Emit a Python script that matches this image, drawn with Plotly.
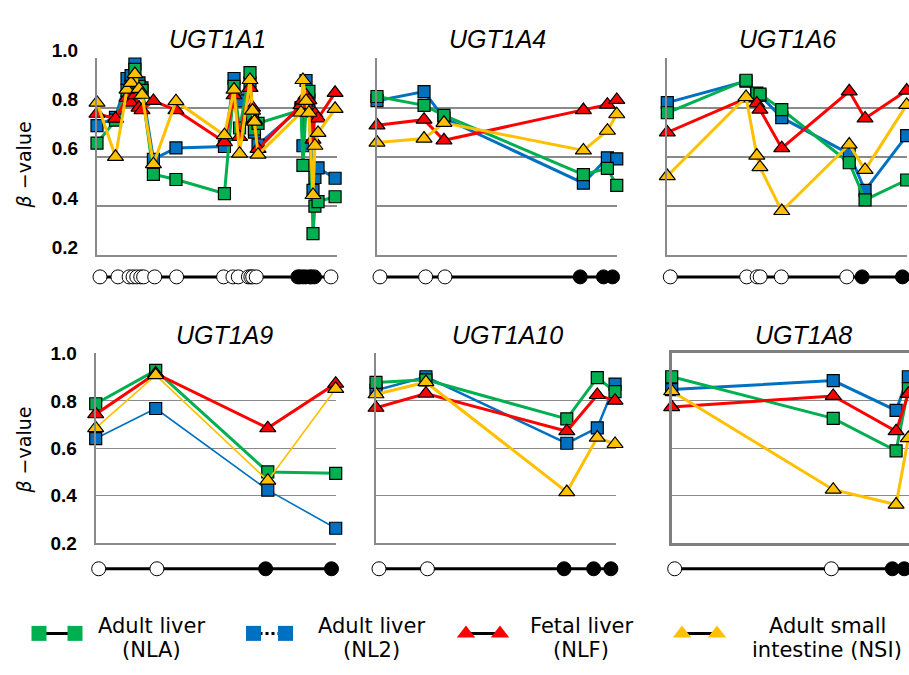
import plotly.graph_objects as go

W, H = 909, 675

# ---------------- data ----------------
PANEL_NAMES = ["UGT1A1", "UGT1A4", "UGT1A6", "UGT1A9", "UGT1A10", "UGT1A8"]
SERIES_NAMES = ["Adult liver (NL2)", "Adult liver (NLA)", "Fetal liver (NLF)", "Adult small intestine (NSI)"]
Y_TICKS = [0.2, 0.4, 0.6, 0.8, 1.0]
Y_TICK_TEXT = ["0.2", "0.4", "0.6", "0.8", "1.0"]

# relative CpG-site positions (0-100) and status (1 = filled circle)
ugt1a1_pos = [0, 7.7, 12.5, 14.2, 15.8, 17.5, 18.75, 23.5, 32.9, 53.1, 57.1, 59.4,
              63.75, 64.8, 65.6, 67.1, 85.0, 85.8, 87.1, 88.3, 90.0, 90.8, 92.1, 99.2]
ugt1a1_fill = [0, 0, 0, 0, 0, 0, 0, 0, 0, 0, 0, 0, 0, 0, 0, 0, 1, 1, 1, 1, 1, 1, 1, 0]
ugt1a1_nla = [0.656, 0.749, 0.870, 0.886, 0.955, 0.886, 0.870, 0.529, 0.508, 0.451, 0.886, 0.717,
              0.942, 0.760, 0.713, 0.736, 0.790, 0.565, 0.800, 0.866, 0.288, 0.400, 0.418, 0.438]
ugt1a1_nl2 = [0.727, 0.760, 0.918, 0.930, 0.977, 0.900, 0.880, 0.590, 0.636, 0.642, 0.918, 0.827,
              0.900, 0.760, 0.700, 0.648, 0.800, 0.645, 0.910, 0.830, 0.464, 0.516, 0.555, 0.513]
ugt1a1_nlf = [0.775, 0.755, 0.840, 0.820, 0.850, 0.800, 0.790, 0.827, 0.790, 0.660, 0.850, 0.681,
              0.880, 0.800, 0.750, 0.632, 0.810, 0.830, 0.850, 0.830, 0.670, 0.775, 0.756, 0.860]
ugt1a1_nsi = [0.820, 0.600, 0.873, 0.900, 0.936, 0.876, 0.852, 0.570, 0.826, 0.688, 0.873, 0.613,
              0.912, 0.788, 0.743, 0.609, 0.780, 0.912, 0.827, 0.779, 0.445, 0.645, 0.697, 0.795]

ugt1a4_pos = [0, 19.6, 27.9, 86.0, 96.0, 99.9]
ugt1a4_fill = [0, 0, 0, 1, 1, 1]
ugt1a4_nla = [0.845, 0.809, 0.768, 0.528, 0.553, 0.484]
ugt1a4_nl2 = [0.828, 0.865, 0.757, 0.493, 0.596, 0.592]
ugt1a4_nlf = [0.728, 0.751, 0.667, 0.790, 0.812, 0.831]
ugt1a4_nsi = [0.658, 0.674, 0.738, 0.626, 0.706, 0.773]

ugt1a6_pos = [0, 32.8, 37.3, 38.6, 47.7, 75.8, 82.4, 99.75]
ugt1a6_fill = [0, 0, 0, 0, 0, 0, 1, 1]
ugt1a6_nla = [0.779, 0.911, 0.859, 0.855, 0.792, 0.576, 0.425, 0.506]
ugt1a6_nl2 = [0.820, 0.907, 0.850, 0.850, 0.759, 0.612, 0.464, 0.686]
ugt1a6_nlf = [0.699, 0.837, 0.817, 0.792, 0.635, 0.866, 0.756, 0.869]
ugt1a6_nsi = [0.522, 0.843, 0.605, 0.558, 0.380, 0.650, 0.547, 0.811]

ugt1a9_pos = [0, 25.0, 71.7, 100.0]
ugt1a9_fill = [0, 0, 1, 1]
ugt1a9_nla = [0.788, 0.929, 0.500, 0.494]
ugt1a9_nl2 = [0.641, 0.768, 0.423, 0.262]
ugt1a9_nlf = [0.744, 0.916, 0.685, 0.873]
ugt1a9_nsi = [0.685, 0.909, 0.463, 0.851]

ugt1a10_pos = [0, 20.8, 79.5, 92.2, 99.6]
ugt1a10_fill = [0, 0, 1, 1, 1]
ugt1a10_nla = [0.878, 0.889, 0.724, 0.898, 0.839]
ugt1a10_nl2 = [0.845, 0.902, 0.621, 0.686, 0.871]
ugt1a10_nlf = [0.771, 0.831, 0.672, 0.825, 0.801]
ugt1a10_nsi = [0.828, 0.879, 0.415, 0.645, 0.618]

ugt1a8_pos = [0, 67.3, 93.5, 98.6]
ugt1a8_fill = [0, 0, 1, 1]
ugt1a8_nla = [0.902, 0.726, 0.589, 0.852]
ugt1a8_nl2 = [0.848, 0.886, 0.760, 0.902]
ugt1a8_nlf = [0.774, 0.821, 0.672, 0.830]
ugt1a8_nsi = [0.841, 0.425, 0.362, 0.643]

PANEL_DATA = [
    (ugt1a1_pos, ugt1a1_fill, [ugt1a1_nl2, ugt1a1_nla, ugt1a1_nlf, ugt1a1_nsi]),
    (ugt1a4_pos, ugt1a4_fill, [ugt1a4_nl2, ugt1a4_nla, ugt1a4_nlf, ugt1a4_nsi]),
    (ugt1a6_pos, ugt1a6_fill, [ugt1a6_nl2, ugt1a6_nla, ugt1a6_nlf, ugt1a6_nsi]),
    (ugt1a9_pos, ugt1a9_fill, [ugt1a9_nl2, ugt1a9_nla, ugt1a9_nlf, ugt1a9_nsi]),
    (ugt1a10_pos, ugt1a10_fill, [ugt1a10_nl2, ugt1a10_nla, ugt1a10_nlf, ugt1a10_nsi]),
    (ugt1a8_pos, ugt1a8_fill, [ugt1a8_nl2, ugt1a8_nla, ugt1a8_nlf, ugt1a8_nsi]),
]

# ---------------- styles / layout ----------------
COLORS = ["#0070C0", "#00B050", "#FF0000", "#FFC000"]
SYMBOLS = ["square", "square", "triangle-up", "triangle-up"]
MSIZE = [12, 12, 14, 14]
GRID = "#8a8a8a"
TXT_FONT = "DejaVu Sans"
NUM_FONT = "Liberation Sans"

# panel geometry in pixels: left, top, bottom, strip y, title centre x, title centre y, row
PANEL_GEOM = [
    dict(left=97.0, top=42.0, bottom=248.0, strip=270.5, tx=217, ty=22, row=0),
    dict(left=377.0, top=42.0, bottom=248.0, strip=270.5, tx=498, ty=22, row=0),
    dict(left=667.3, top=42.0, bottom=248.0, strip=270.5, tx=787, ty=22, row=0),
    dict(left=95.7, top=350.5, bottom=548.5, strip=575.5, tx=224, ty=331, row=1),
    dict(left=376.0, top=350.5, bottom=548.5, strip=575.5, tx=508, ty=331, row=1),
    dict(left=671.7, top=350.5, bottom=548.5, strip=575.5, tx=803, ty=331, row=1),
]
PX_PER_UNIT = 2.4
STRIP_SCALE = 0.97
STRIP_OFFSET = 3.0
# line widths per panel for (NL2, NLA, NLF, NSI)
LINE_W = [[3, 3, 3, 3], [3, 3, 3, 3], [3, 3, 3, 3],
          [1.6, 3, 3, 1.6], [2.5, 3, 3, 3], [3, 3, 3, 3]]

fig = go.Figure()
layout_axes = {}
annotations = []

for i, (pos, fill, series) in enumerate(PANEL_DATA):
    g = PANEL_GEOM[i]
    k = i + 1
    ks = i + 7
    right = min(g["left"] + 240, W)
    width_px = right - g["left"]
    xdom = [g["left"] / W, right / W]

    # main traces
    for s in range(4):
        fig.add_trace(go.Scatter(
            x=pos, y=series[s], mode="lines+markers",
            line=dict(color=COLORS[s], width=LINE_W[i][s]),
            marker=dict(symbol=SYMBOLS[s], size=MSIZE[s], color=COLORS[s],
                        line=dict(color="black", width=1.2)),
            cliponaxis=False, showlegend=False, name=SERIES_NAMES[s],
            xaxis=f"x{k}", yaxis=f"y{k}"))
    # status strip
    fig.add_trace(go.Scatter(
        x=pos, y=[0] * len(pos), mode="lines+markers",
        line=dict(color="black", width=3),
        marker=dict(symbol="circle", size=14,
                    color=["black" if f else "white" for f in fill],
                    line=dict(color="black", width=1)),
        cliponaxis=False, showlegend=False, hoverinfo="skip",
        xaxis=f"x{ks}", yaxis=f"y{ks}"))

    boxed = (i == 5)
    layout_axes[f"xaxis{k}"] = dict(
        domain=xdom, range=[0, width_px / PX_PER_UNIT], anchor=f"y{k}",
        showgrid=False, zeroline=False, showticklabels=False, ticks="",
        showline=True, linecolor="#7f7f7f" if boxed else GRID,
        linewidth=2.5 if boxed else 2, mirror=boxed)
    top_row = g["row"] == 0
    layout_axes[f"yaxis{k}"] = dict(
        domain=[1 - g["bottom"] / H, 1 - g["top"] / H], range=[0.2, 1.0005],
        anchor=f"x{k}", tickvals=Y_TICKS, ticktext=Y_TICK_TEXT,
        showticklabels=(i in (0, 3)), ticks="",
        tickfont=dict(family=NUM_FONT, size=19, color="black", weight="bold"),
        ticklabelstandoff=13, ticklabelshift=-8 if top_row else 0,
        showgrid=True, gridcolor=GRID, gridwidth=2 if top_row else 1.4,
        zeroline=False, showline=True,
        linecolor="#7f7f7f" if boxed else GRID,
        linewidth=2.5 if boxed else 2)

    su = PX_PER_UNIT * STRIP_SCALE
    layout_axes[f"xaxis{ks}"] = dict(
        domain=xdom, range=[-STRIP_OFFSET / su, (width_px - STRIP_OFFSET) / su],
        anchor=f"y{ks}", visible=False)
    layout_axes[f"yaxis{ks}"] = dict(
        domain=[1 - (g["strip"] + 10) / H, 1 - (g["strip"] - 10) / H],
        range=[-1, 1], anchor=f"x{ks}", visible=False)

    annotations.append(dict(
        text=PANEL_NAMES[i], x=g["tx"] / W, y=1 - g["ty"] / H, xref="paper", yref="paper",
        showarrow=False, xanchor="center", yanchor="middle",
        font=dict(family=NUM_FONT, size=25, color="black", style="italic")))

# y-axis titles
for ycen in (154, 452):
    annotations.append(dict(
        text="<i>β</i> −value", x=24 / W, y=1 - ycen / H, xref="paper", yref="paper",
        showarrow=False, textangle=-90, xanchor="center", yanchor="middle",
        font=dict(family=TXT_FONT, size=19, color="black")))

# ---------------- custom legend ----------------
LEGEND_ORDER = [1, 0, 2, 3]   # NLA, NL2, NLF, NSI
LEGEND_LINE1 = ["Adult liver", "Adult liver", "Fetal liver", "Adult small"]
LEGEND_LINE2 = ["(NLA)", "(NL2)", "(NLF)", "intestine (NSI)"]
LEGEND_SYM_X = [(39, 75), (253.5, 285.5), (466, 500), (682, 717)]
LEGEND_TEXT_X = [151.5, 371, 581, 827]
LEGEND_SYM_Y = 643
LEGEND_TEXT_Y = (635, 660)

for j, s in enumerate(LEGEND_ORDER):
    x1, x2 = LEGEND_SYM_X[j]
    fig.add_trace(go.Scatter(
        x=[x1, x2], y=[LEGEND_SYM_Y, LEGEND_SYM_Y], mode="lines+markers",
        line=dict(color="black", width=3, dash="dot" if s == 0 else "solid"),
        marker=dict(symbol=SYMBOLS[s], size=15 if s < 2 else 16, color=COLORS[s],
                    line=dict(width=0)),
        cliponaxis=False, showlegend=False, hoverinfo="skip",
        xaxis="x13", yaxis="y13"))
    for line_txt, ty in zip((LEGEND_LINE1[j], LEGEND_LINE2[j]), LEGEND_TEXT_Y):
        annotations.append(dict(
            text=line_txt, x=LEGEND_TEXT_X[j] / W, y=1 - ty / H, xref="paper", yref="paper",
            showarrow=False, xanchor="center", yanchor="middle",
            font=dict(family=TXT_FONT, size=21, color="black")))

layout_axes["xaxis13"] = dict(domain=[0, 1], range=[0, W], anchor="y13", visible=False)
layout_axes["yaxis13"] = dict(domain=[0, 70 / H], range=[675, 605], anchor="x13", visible=False)

fig.update_layout(
    width=W, height=H, margin=dict(l=0, r=0, t=0, b=0),
    paper_bgcolor="white", plot_bgcolor="rgba(0,0,0,0)",
    showlegend=False, annotations=annotations, **layout_axes)

# remove the browser's default 8px body margin so the figure fills the window
fig.write_html("out.html", config={"displayModeBar": False},
               post_script="document.body.style.margin='0px';document.body.style.overflow='hidden';")
